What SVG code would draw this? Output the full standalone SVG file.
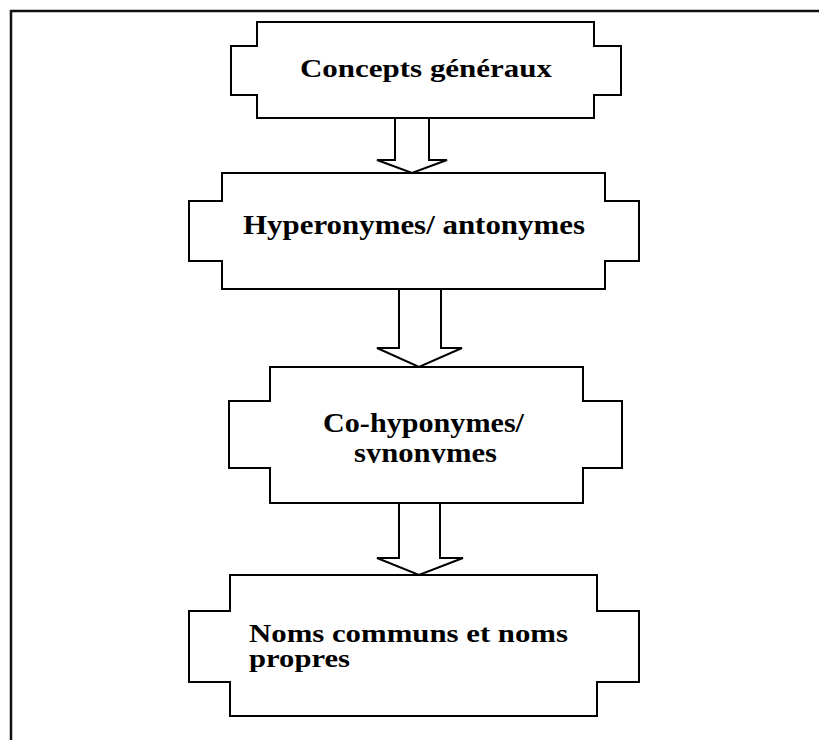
<svg xmlns="http://www.w3.org/2000/svg" width="819" height="740" viewBox="0 0 819 740">
  <style>
    .shape { fill: #ffffff; stroke: #000000; stroke-width: 2; stroke-linejoin: miter; }
    .frame { fill: none; stroke: #111111; stroke-width: 2.5; }
    .label { font-family: "Liberation Serif", "Times New Roman", serif; font-weight: bold; font-size: 26px; fill: #000000; }
    .big { font-size: 27px; }
    .small { font-size: 25px; }
  </style>
  <defs>
    <clipPath id="clip-line2">
      <rect x="230" y="440" width="390" height="23"/>
    </clipPath>
  </defs>

  <rect x="0" y="0" width="819" height="740" fill="#ffffff"/>
  <!-- page border (top and left only) -->
  <path class="frame" d="M11,740 V11 H819"/>

  <g id="connectors">
    <polygon class="shape" points="395,118 429,118 429,160 447,160 412,173 377,160 395,160"/>
    <polygon class="shape" points="399,289 441,289 441,348 462,348 419,367 377,348 399,348"/>
    <polygon class="shape" points="399,503 440,503 440,558 463,558 419,575 377,558 399,558"/>
  </g>

  <g id="node-concepts">
    <path class="shape" d="M257,22 H594 V46 H621 V95 H594 V118 H257 V95 H231 V46 H257 Z"/>
    <text class="label" x="300" y="77" textLength="252" lengthAdjust="spacingAndGlyphs">Concepts généraux</text>
  </g>

  <g id="node-hyperonymes">
    <path class="shape" d="M222,173 H605 V201 H639 V261 H605 V289 H222 V261 H189 V201 H222 Z"/>
    <text class="label big" x="243" y="234" textLength="342" lengthAdjust="spacingAndGlyphs">Hyperonymes/ antonymes</text>
  </g>

  <g id="node-cohyponymes">
    <path class="shape" d="M270,367 H583 V401 H622 V468 H583 V503 H270 V468 H229 V401 H270 Z"/>
    <text class="label big" x="323" y="432" textLength="201" lengthAdjust="spacingAndGlyphs">Co-hyponymes/</text>
    <text class="label big" x="354" y="462" textLength="143" lengthAdjust="spacingAndGlyphs" clip-path="url(#clip-line2)">synonymes</text>
  </g>

  <g id="node-noms">
    <path class="shape" d="M230,575 H597 V611 H639 V682 H597 V716 H230 V682 H189 V611 H230 Z"/>
    <text class="label small" x="249" y="642" textLength="319" lengthAdjust="spacingAndGlyphs">Noms communs et noms</text>
    <text class="label small" x="249" y="667" textLength="101" lengthAdjust="spacingAndGlyphs">propres</text>
  </g>
</svg>
